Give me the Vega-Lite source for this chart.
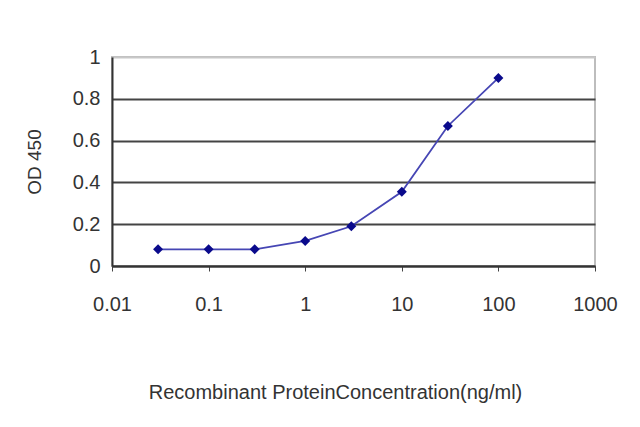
{
  "$schema": "https://vega.github.io/schema/vega-lite/v6.json",
  "autosize": "none",
  "width": 483,
  "height": 209,
  "padding": {"left": 112, "top": 57, "right": 45, "bottom": 161},
  "background": "white",
  "config": {
    "font": "Liberation Sans",
    "view": {"stroke": "#bdbdbd", "strokeWidth": 2}
  },
  "data": {
    "values": [
      {"conc": 0.03, "od": 0.08},
      {"conc": 0.1, "od": 0.08},
      {"conc": 0.3, "od": 0.08},
      {"conc": 1, "od": 0.12},
      {"conc": 3, "od": 0.19},
      {"conc": 10, "od": 0.355},
      {"conc": 30, "od": 0.67},
      {"conc": 100, "od": 0.9}
    ]
  },
  "encoding": {
    "x": {
      "field": "conc",
      "type": "quantitative",
      "scale": {"type": "log", "domain": [0.01, 1000], "nice": false},
      "axis": {
        "title": "Recombinant ProteinConcentration(ng/ml)",
        "values": [0.01, 0.1, 1, 10, 100, 1000],
        "format": "~g",
        "grid": false,
        "domainColor": "#333333",
        "domainWidth": 2,
        "tickColor": "#444444",
        "tickSize": 5,
        "tickWidth": 1,
        "labelFontSize": 20,
        "labelColor": "#333333",
        "labelPadding": 23,
        "labelFlush": false,
        "titleFontSize": 20,
        "titleFontWeight": "normal",
        "titleColor": "#333333",
        "titlePadding": 68,
        "titleX": 223
      }
    },
    "y": {
      "field": "od",
      "type": "quantitative",
      "scale": {"domain": [0, 1], "nice": false},
      "axis": {
        "title": "OD 450",
        "values": [0, 0.2, 0.4, 0.6, 0.8, 1],
        "format": "~g",
        "grid": true,
        "gridColor": {"condition": {"test": "datum.value == 1", "value": "#c8c8c8"}, "value": "#444444"},
        "gridWidth": 2,
        "domainColor": "#333333",
        "domainWidth": 2,
        "ticks": false,
        "labelFontSize": 20,
        "labelColor": "#333333",
        "labelPadding": 12,
        "titleFontSize": 19,
        "titleFontWeight": "normal",
        "titleColor": "#333333",
        "titlePadding": 28
      }
    }
  },
  "layer": [
    {"mark": {"type": "line", "color": "#4646b4", "strokeWidth": 1.8}},
    {"mark": {"type": "point", "shape": "diamond", "filled": true, "color": "#0a0a8c", "size": 100, "opacity": 1}}
  ]
}
